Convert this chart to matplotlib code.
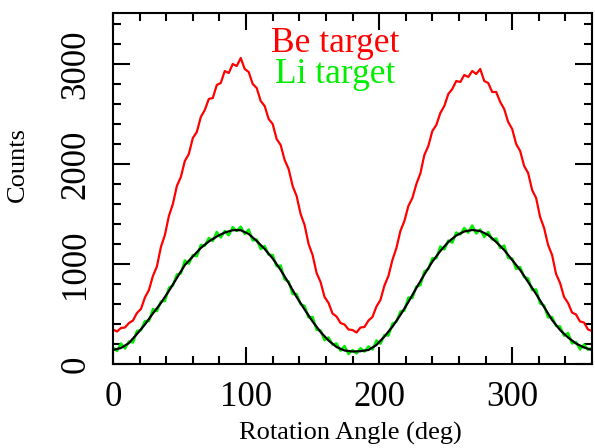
import matplotlib
matplotlib.use("Agg")
import matplotlib.pyplot as plt
from matplotlib.ticker import MultipleLocator

plt.rcParams['font.family'] = ['Liberation Serif', 'DejaVu Serif']

# Be target (red), sampled every 3 deg
angle_be = list(range(0, 361, 3))
counts_be = [345, 325, 360, 365, 410, 435, 510, 550, 665, 740, 880, 975, 1170, 1290, 1480, 1600,
             1780, 1870, 2030, 2100, 2260, 2320, 2470, 2540, 2650, 2660, 2790, 2810, 2930, 2910,
             3000, 2980, 3060, 2950, 2920, 2800, 2760, 2630, 2580, 2450, 2400, 2250, 2190, 2040,
             1950, 1780, 1680, 1500, 1390, 1200, 1090, 910, 820, 670, 610, 505, 475, 410, 395,
             345, 340, 315, 365, 370, 435, 470, 575, 640, 785, 880, 1040, 1160, 1330, 1430, 1580,
             1660, 1800, 1905, 2090, 2180, 2330, 2390, 2510, 2580, 2700, 2750, 2830, 2820, 2890,
             2870, 2930, 2900, 2950, 2830, 2810, 2720, 2720, 2620, 2550, 2420, 2350, 2200, 2130,
             1980, 1910, 1740, 1660, 1470, 1360, 1190, 1090, 900, 810, 670, 610, 515, 495, 425,
             415, 345, 330]

# Li target (green), sampled every 3 deg
angle_li = list(range(0, 361, 3))
counts_li = [165, 130, 205, 155, 225, 215, 330, 338, 430, 430, 550, 528, 625, 630, 760, 785,
             895, 905, 1035, 1003, 1090, 1078, 1190, 1183, 1260, 1230, 1320, 1265, 1330, 1287,
             1368, 1330, 1373, 1300, 1345, 1235, 1245, 1150, 1180, 1093, 1090, 978, 985, 845,
             825, 700, 700, 598, 580, 465, 470, 343, 335, 238, 265, 193, 205, 133, 180, 100,
             140, 105, 158, 124, 175, 145, 235, 203, 290, 284, 403, 422, 525, 535, 665, 660,
             775, 788, 925, 950, 1058, 1057, 1175, 1145, 1235, 1213, 1315, 1295, 1360, 1313,
             1385, 1305, 1345, 1270, 1320, 1245, 1255, 1160, 1185, 1060, 1055, 950, 970, 870,
             855, 740, 745, 605, 585, 465, 470, 380, 375, 283, 310, 205, 220, 145, 195, 143, 160]

# Fit (black), sampled every 6 deg
angle_fit = list(range(0, 361, 6))
counts_fit = [140, 160, 210, 300, 395, 505, 610, 730, 860, 990, 1075, 1160, 1225, 1275, 1315,
              1338, 1338, 1300, 1230, 1150, 1055, 940, 810, 670, 545, 425, 320, 235, 170, 135,
              125, 128, 140, 190, 275, 373, 490, 620, 760, 895, 1023, 1130, 1220, 1285, 1325,
              1340, 1330, 1290, 1220, 1140, 1040, 940, 820, 700, 570, 440, 340, 265, 205, 165, 140]

x_ticks = [0, 100, 200, 300]
y_ticks = [0, 1000, 2000, 3000]
labels = ["Be target", "Li target"]

fig = plt.figure(figsize=(5.95, 4.48), dpi=100)
ax = fig.add_axes([113/595, 1 - 364/448, (592-113)/595, (364-13)/448])

ax.plot(angle_be, counts_be, color='#ff0000', lw=1.6)
ax.plot(angle_li, counts_li, color='#00ee00', lw=1.8)
ax.plot(angle_fit, counts_fit, color='black', lw=1.6)

ax.set_xlim(0, 360)
ax.set_ylim(0, 3510)
ax.set_xticks(x_ticks)
ax.set_yticks(y_ticks)
ax.xaxis.set_minor_locator(MultipleLocator(20))
ax.yaxis.set_minor_locator(MultipleLocator(200))
ax.tick_params(which='both', direction='in', top=True, right=True, width=1.5)
ax.tick_params(which='major', length=12)
ax.tick_params(which='minor', length=6)
ax.tick_params(axis='x', which='major', labelsize=25, pad=12)
ax.tick_params(axis='y', which='major', labelsize=25, pad=15, labelrotation=90)
for lab in ax.get_yticklabels():
    lab.set_va('center')
for s in ax.spines.values():
    s.set_linewidth(1.5)

ax.text(167, 3120, labels[0], color='#ff0000', fontsize=25.5, ha='center', va='baseline')
ax.text(167, 2810, labels[1], color='#00ee00', fontsize=25.5, ha='center', va='baseline')

fig.text(350/595, 1 - 440/448, "Rotation Angle (deg)", fontsize=19, ha='center', va='baseline')
fig.text(18/595, 1 - 164/448, "Counts", fontsize=19, rotation=90, ha='center', va='center')

fig.savefig("out.png", dpi=100)
